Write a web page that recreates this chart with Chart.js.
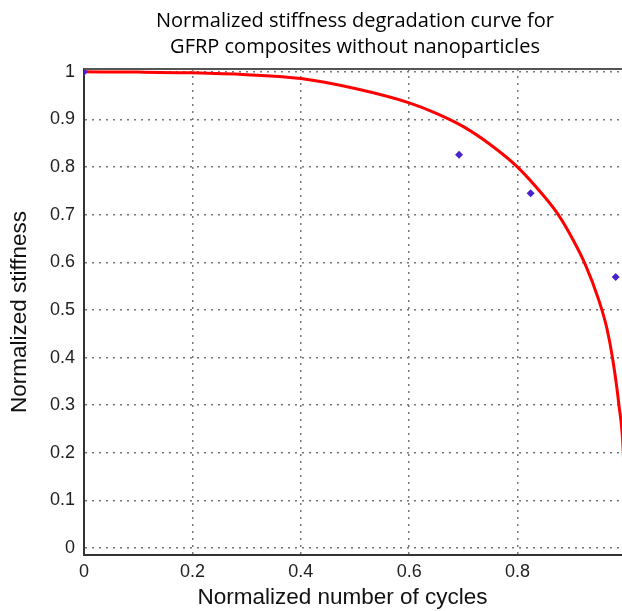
<!DOCTYPE html>
<html>
<head>
<meta charset="utf-8">
<script src="https://cdn.jsdelivr.net/npm/chart.js@4.4.0/dist/chart.umd.min.js"></script>
<style>
  html, body { margin: 0; padding: 0; background: #fff; overflow: hidden; }
  canvas { display: block; }
</style>
</head>
<body>
<canvas id="stiffnessChart" width="660" height="611"></canvas>
<script>
// Fitted degradation curve
const curveX = [0, 0.1, 0.2, 0.3, 0.4, 0.5, 0.6, 0.65, 0.7, 0.75, 0.8, 0.85, 0.875, 0.9, 0.925, 0.95, 0.965, 0.975, 0.987, 0.995, 1.0];
const curveY = [1.0, 0.9995, 0.998, 0.994, 0.986, 0.965, 0.935, 0.913, 0.885, 0.847, 0.80, 0.737, 0.70, 0.652, 0.595, 0.52, 0.46, 0.40, 0.30, 0.20, 0.0];

// Experimental points
const testX = [0, 0.692, 0.824, 0.981];
const testY = [1.0, 0.826, 0.745, 0.569];

// Tick labels
const xTicks = [0, 0.2, 0.4, 0.6, 0.8];
const yTicks = [0, 0.1, 0.2, 0.3, 0.4, 0.5, 0.6, 0.7, 0.8, 0.9, 1];

const titleLines = ['Normalized stiffness degradation curve for', 'GFRP composites without nanoparticles'];

// Draw the top frame line of the plot box
const frameTop = {
    id: 'frameTop',
    afterDraw: function (chart) {
        const ctx = chart.ctx;
        const area = chart.chartArea;
        ctx.save();
        ctx.strokeStyle = '#555';
        ctx.lineWidth = 2;
        ctx.beginPath();
        ctx.moveTo(area.left, area.top);
        ctx.lineTo(area.right, area.top);
        ctx.stroke();
        ctx.restore();
    }
};

const gridStyle = { color: '#777', lineWidth: 1.5, drawTicks: false };
const borderStyle = { display: true, color: '#333', width: 2, dash: [2, 5] };
const tickFont = { family: '"Liberation Sans", Arial, sans-serif', size: 18 };
const axisTitleFont = { family: '"Liberation Sans", Arial, sans-serif', size: 22.5 };

var ctx = document.getElementById('stiffnessChart').getContext('2d');
var chart = new Chart(ctx, {
    type: 'line',
    data: {
        datasets: [
            {
                label: 'Test data',
                data: testX.map((x, i) => ({ x: x, y: testY[i] })),
                showLine: false,
                pointStyle: 'rectRot',
                pointRadius: 4,
                pointBackgroundColor: '#4a22cc',
                pointBorderColor: '#4a22cc',
                borderWidth: 0
            },
            {
                label: 'Model',
                data: curveX.map((x, i) => ({ x: x, y: curveY[i] })),
                borderColor: '#ff0000',
                borderWidth: 3,
                pointRadius: 0,
                cubicInterpolationMode: 'monotone',
                fill: false
            }
        ]
    },
    options: {
        responsive: false,
        animation: false,
        layout: { padding: { left: 0, right: 34, top: 0, bottom: 0 } },
        plugins: {
            legend: { display: false },
            tooltip: { enabled: false },
            title: {
                display: true,
                fullSize: false,
                text: titleLines,
                color: '#000',
                font: { family: '"Open Sans", "Noto Sans", sans-serif', size: 20, weight: 'normal', lineHeight: 1.3 },
                padding: { top: 8, bottom: 9 }
            }
        },
        scales: {
            x: {
                type: 'linear',
                min: 0,
                max: 1,
                afterBuildTicks: function (scale) {
                    scale.ticks = xTicks.map(v => ({ value: v }));
                },
                afterFit: function (scale) { scale.height = 56; },
                grid: gridStyle,
                border: borderStyle,
                ticks: {
                    color: '#222',
                    font: tickFont,
                    padding: 6,
                    maxRotation: 0,
                    callback: v => String(v)
                },
                title: {
                    display: true,
                    // trailing spaces nudge the label left, as in the original
                    text: 'Normalized number of cycles    ',
                    color: '#111',
                    font: axisTitleFont,
                    padding: { top: 0, bottom: 0 }
                }
            },
            y: {
                type: 'linear',
                min: -0.0147,
                max: 1.006,
                afterBuildTicks: function (scale) {
                    scale.ticks = yTicks.map(v => ({ value: v }));
                },
                afterFit: function (scale) { scale.width = 84; },
                grid: gridStyle,
                border: borderStyle,
                ticks: {
                    color: '#222',
                    font: tickFont,
                    padding: 9,
                    callback: v => String(v)
                },
                title: {
                    display: true,
                    text: 'Normalized stiffness',
                    color: '#111',
                    font: axisTitleFont,
                    padding: { top: 6.5, bottom: 0 }
                }
            }
        }
    },
    plugins: [frameTop]
});
</script>
</body>
</html>
